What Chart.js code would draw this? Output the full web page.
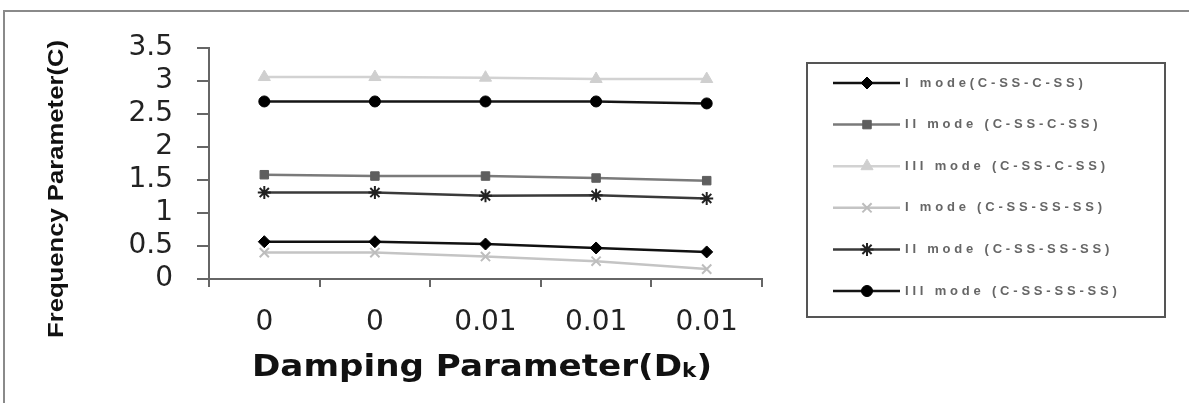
<!DOCTYPE html>
<html lang="en">
<head>
<meta charset="UTF-8">
<title>Frequency Parameter vs Damping Parameter</title>
<script src="https://cdn.jsdelivr.net/npm/chart.js"></script>
<style>
  html, body { margin: 0; padding: 0; background: #fff; overflow: hidden; }
  #wrap { position: relative; width: 1189px; height: 403px; overflow: hidden; }
  #frame { position: absolute; left: 3px; top: 10px; width: 1200px; height: 420px;
           border-left: 2px solid #8a8a8a; border-top: 2px solid #8a8a8a; }
  #chart { position: absolute; left: 0; top: 0; }
</style>
</head>
<body>
<div id="wrap">
  <div id="frame"></div>
  <canvas id="chart" width="1189" height="403"></canvas>
</div>
<script>
// damping parameter categories (as printed on the axis)
const dampingLabels = ['0', '0', '0.01', '0.01', '0.01'];

// frequency parameter values
const mode1CSSCSS = [0.565, 0.565, 0.53, 0.47, 0.41];
const mode2CSSCSS = [1.58, 1.56, 1.56, 1.53, 1.49];
const mode3CSSCSS = [3.06, 3.06, 3.05, 3.03, 3.03];
const mode1CSSSSSS = [0.40, 0.40, 0.34, 0.27, 0.15];
const mode2CSSSSSS = [1.31, 1.31, 1.26, 1.27, 1.22];
const mode3CSSSSSS = [2.69, 2.69, 2.69, 2.69, 2.66];

const seriesNames = [
  'I mode(C-SS-C-SS)',
  'II mode (C-SS-C-SS)',
  'III mode (C-SS-C-SS)',
  'I mode (C-SS-SS-SS)',
  'II mode (C-SS-SS-SS)',
  'III mode (C-SS-SS-SS)'
];

function serie(label, data, line, fill, style, radius, bw) {
  return {
    label: label,
    data: data,
    borderColor: line,
    backgroundColor: fill,
    pointBorderColor: fill,
    pointBackgroundColor: fill,
    pointStyle: style,
    pointRadius: radius,
    pointBorderWidth: bw,
    borderWidth: 2.5,
    fill: false,
    tension: 0
  };
}

const datasets = [
  serie(seriesNames[0], mode1CSSCSS, '#111111', '#000000', 'rectRot', 6, 1),
  serie(seriesNames[1], mode2CSSCSS, '#7a7a7a', '#5e5e5e', 'rect', 6, 1),
  serie(seriesNames[2], mode3CSSCSS, '#d2d2d2', '#cfcfcf', 'triangle', 7, 1),
  serie(seriesNames[3], mode1CSSSSSS, '#c4c4c4', '#bdbdbd', 'crossRot', 6.5, 2),
  serie(seriesNames[4], mode2CSSSSSS, '#3a3a3a', '#222222', 'star', 6.5, 2),
  serie(seriesNames[5], mode3CSSSSSS, '#151515', '#000000', 'circle', 5.5, 1)
];

// draws axis titles and the boxed legend
const decorations = {
  id: 'decorations',
  afterDraw(chart) {
    const ctx = chart.ctx;
    ctx.save();

    // y title (squeezed like the original)
    ctx.fillStyle = '#111';
    ctx.font = 'bold 22px "Liberation Sans", Arial, sans-serif';
    ctx.textAlign = 'center';
    ctx.textBaseline = 'middle';
    const yTitle = 'Frequency Parameter(C)';
    const sy = 298 / ctx.measureText(yTitle).width;
    ctx.translate(57, 189);
    ctx.rotate(-Math.PI / 2);
    ctx.scale(sy, 1.0);
    ctx.fillText(yTitle, 0, 0);
    ctx.setTransform(1, 0, 0, 1, 0, 0);

    // x title with subscript k
    const big = 'bold 30px "DejaVu Sans", sans-serif';
    const small = 'bold 19px "DejaVu Sans", sans-serif';
    const partA = 'Damping Parameter(D', partB = 'k', partC = ')';
    ctx.font = big; const wA = ctx.measureText(partA).width; const wC = ctx.measureText(partC).width;
    ctx.font = small; const wB = ctx.measureText(partB).width;
    const total = wA + wB + wC;
    const sx = 460 / total;
    ctx.translate(482 - 230, 376);
    ctx.scale(sx, 1);
    let x = 0;
    ctx.textAlign = 'left';
    ctx.textBaseline = 'alphabetic';
    ctx.font = big; ctx.fillText(partA, x, 0); x += wA;
    ctx.font = small; ctx.fillText(partB, x, 1); x += wB;
    ctx.font = big; ctx.fillText(partC, x, 0);
    ctx.setTransform(1, 0, 0, 1, 0, 0);

    // legend box
    ctx.strokeStyle = '#555';
    ctx.lineWidth = 2;
    ctx.strokeRect(807, 63, 358, 254);

    ctx.font = 'bold 13px "Liberation Sans", Arial, sans-serif';
    ctx.textBaseline = 'middle';
    chart.data.datasets.forEach((ds, i) => {
      const y = 83 + i * 41.6;
      ctx.strokeStyle = ds.borderColor;
      ctx.lineWidth = 2.5;
      ctx.beginPath();
      ctx.moveTo(833, y);
      ctx.lineTo(900, y);
      ctx.stroke();
      ctx.fillStyle = ds.pointBackgroundColor;
      ctx.strokeStyle = ds.pointBorderColor;
      ctx.lineWidth = ds.pointBorderWidth;
      Chart.helpers.drawPoint(ctx, {
        pointStyle: ds.pointStyle, radius: ds.pointRadius,
        borderWidth: ds.pointBorderWidth, rotation: 0
      }, 867, y);
      // spaced-out label text
      ctx.fillStyle = '#666';
      let tx = 905;
      for (const ch of ds.label) {
        ctx.fillText(ch, tx, y);
        tx += ctx.measureText(ch).width + 3.8;
      }
    });
    ctx.restore();
  }
};

new Chart(document.getElementById('chart').getContext('2d'), {
  type: 'line',
  data: { labels: dampingLabels, datasets: datasets },
  options: {
    responsive: false,
    animation: false,
    layout: { padding: { top: 48, right: 427, bottom: 0, left: 0 } },
    plugins: { legend: { display: false }, tooltip: { enabled: false } },
    scales: {
      x: {
        offset: true,
        afterFit(scale) { scale.height = 124; },
        grid: { offset: true, drawOnChartArea: false, tickLength: 8, color: '#666', lineWidth: 2 },
        border: { display: true, color: '#666', width: 2 },
        ticks: { color: '#222', padding: 19, font: { family: '"DejaVu Sans", sans-serif', size: 28 } }
      },
      y: {
        min: 0,
        max: 3.5,
        afterFit(scale) { scale.width = 209; },
        grid: { drawOnChartArea: false, tickLength: 12, color: '#666', lineWidth: 2 },
        border: { display: true, color: '#666', width: 2 },
        ticks: {
          stepSize: 0.5, autoSkip: false, color: '#222', padding: 24,
          font: { family: '"DejaVu Sans", sans-serif', size: 28 },
          callback: (v) => String(Number(v))
        }
      }
    }
  },
  plugins: [decorations]
});
</script>
</body>
</html>
